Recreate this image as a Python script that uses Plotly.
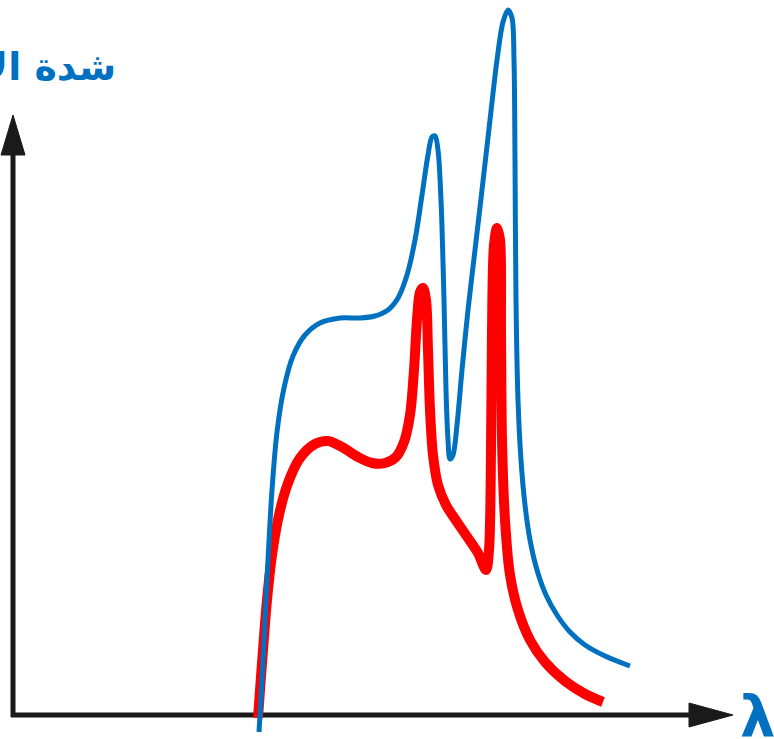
import plotly.graph_objects as go

W, H = 774, 739

# Wavelength (x) and intensity (y) samples, in chart units (0..774 / 0..739)
blue_x = [259, 260, 262, 265, 268, 272, 277, 284, 293, 305, 320, 340, 360, 375, 388, 398, 407, 415, 422, 428, 432, 435, 438, 441, 444, 446, 448, 450, 453, 457, 462, 468, 475, 482, 490, 497, 503, 508, 512, 514, 515, 516, 518, 521, 525, 530, 537, 546, 557, 570, 585, 605, 630]
blue_py = [732, 715, 680, 620, 560, 490, 432, 388, 356, 335, 323, 318, 318, 316, 310, 298, 275, 240, 195, 155, 137, 136, 150, 200, 300, 390, 440, 459, 455, 425, 370, 310, 250, 190, 120, 60, 22, 10, 18, 60, 160, 300, 400, 460, 505, 540, 570, 595, 615, 632, 645, 656, 666]

red_x = [258, 260, 263, 267, 272, 279, 288, 300, 315, 328, 342, 358, 372, 385, 396, 404, 410, 414, 417, 420, 423, 426, 428, 430, 433, 438, 446, 457, 468, 478, 486, 489, 491, 492, 494, 497, 500, 501, 502, 505, 510, 518, 530, 545, 565, 585, 603]
red_py = [718, 690, 650, 600, 555, 515, 483, 458, 444, 441, 447, 457, 463, 463, 457, 442, 415, 370, 320, 292, 288, 300, 350, 410, 455, 485, 505, 522, 538, 553, 570, 550, 450, 330, 245, 228, 240, 330, 440, 520, 575, 610, 640, 662, 681, 694, 702]

blue_y = [H - v for v in blue_py]
red_y = [H - v for v in red_py]

y_label = "شدة الأشعة"
x_label = "λ"

BLUE = "#0070C0"
RED = "#FF0000"
AX = "#1a1a1a"

fig = go.Figure()
fig.add_trace(go.Scatter(x=red_x, y=red_y, mode="lines",
                         line=dict(color=RED, width=10, shape="spline", smoothing=0.9),
                         hoverinfo="skip"))
fig.add_trace(go.Scatter(x=blue_x, y=blue_y, mode="lines",
                         line=dict(color=BLUE, width=5, shape="spline", smoothing=0.9),
                         hoverinfo="skip"))

shapes = [
    dict(type="line", x0=13, y0=H - 717, x1=13, y1=H - 150, line=dict(color=AX, width=5), layer="below"),
    dict(type="line", x0=11, y0=H - 715, x1=692, y1=H - 715, line=dict(color=AX, width=5), layer="below"),
    dict(type="path", path=f"M 1 {H-155} L 25 {H-155} L 13 {H-115} Z",
         fillcolor=AX, line=dict(color=AX, width=1), layer="below"),
    dict(type="path", path=f"M 689 {H-703} L 689 {H-727} L 733 {H-715} Z",
         fillcolor=AX, line=dict(color=AX, width=1), layer="below"),
]

annotations = [
    dict(x=118, y=H - 66, xref="x", yref="y", text=f"<b>{y_label}</b>", showarrow=False,
         xanchor="right", yanchor="middle",
         font=dict(family="DejaVu Sans, Noto Sans", size=38, color=BLUE)),
    dict(x=738, y=H - 716, xref="x", yref="y", text=f"<b>{x_label}</b>", showarrow=False,
         xanchor="left", yanchor="middle",
         font=dict(family="DejaVu Sans", size=56, color=BLUE)),
]

fig.update_layout(
    width=W, height=H,
    margin=dict(l=0, r=0, t=0, b=0),
    paper_bgcolor="white", plot_bgcolor="white",
    showlegend=False,
    xaxis=dict(range=[0, W], visible=False, fixedrange=True),
    yaxis=dict(range=[0, H], visible=False, fixedrange=True),
    shapes=shapes,
    annotations=annotations,
)

fig.write_html("out.html")
